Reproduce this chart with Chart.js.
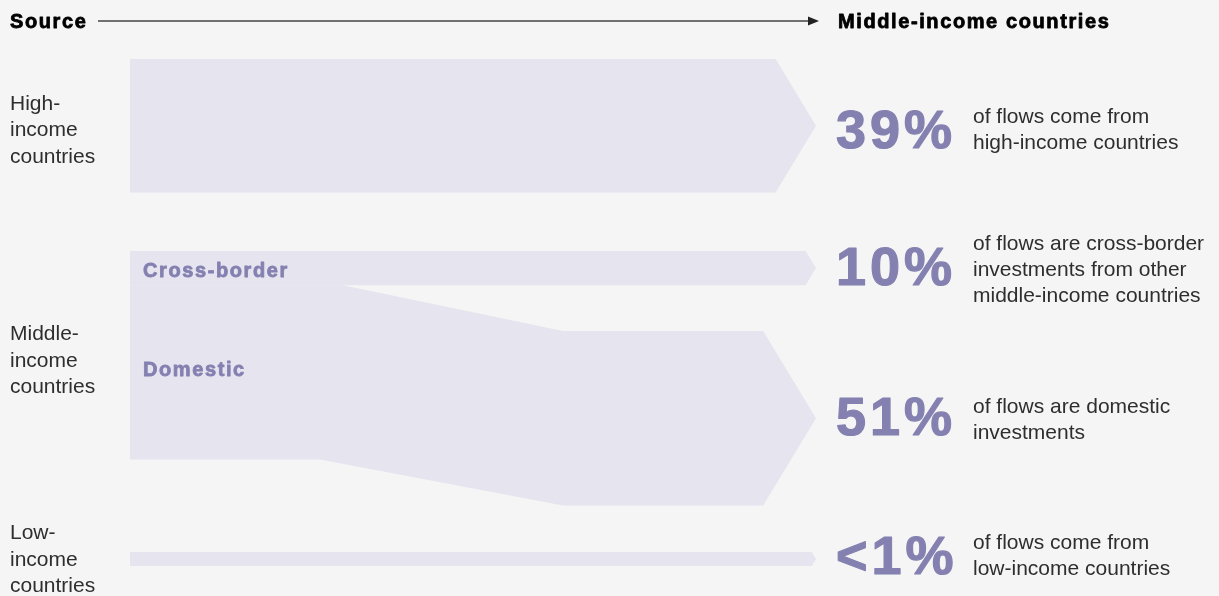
<!DOCTYPE html>
<html>
<head>
<meta charset="utf-8">
<script src="https://cdn.jsdelivr.net/npm/chart.js@4/dist/chart.umd.min.js"></script>
<style>
html,body{margin:0;padding:0;background:#f5f5f5;overflow:hidden}
canvas{display:block}
</style>
</head>
<body>
<canvas id="flowChart" width="1219" height="596"></canvas>
<script>
// shares of investment flows into middle-income countries (%)
var flowNames = ["High-income", "Cross-border", "Domestic", "Low-income"];
var flowShares = [39, 10, 51, 0.5];
var shareLabels = ["39%", "10%", "51%", "<1%"];
var flowNotes = [
	["of flows come from", "high-income countries"],
	["of flows are cross-border", "investments from other", "middle-income countries"],
	["of flows are domestic", "investments"],
	["of flows come from", "low-income countries"]
];
var sourceLabels = [["High-", "income", "countries"], ["Middle-", "income", "countries"], ["Low-", "income", "countries"]];

// layout
var PX_PER_PCT = 3.42;
var MIN_SHARE = 4.1;          // thinnest band that is still drawn
var BAND_LEFT = 130, TIP_X = 816, TIP_SLOPE = 1.65;
var bandTopPx = [59, 251, 331, 552];
var DOM_TOP_BEND = [343, 563], DOM_BOTTOM_BEND = [320, 563];
var pctNudge = [5, 0, 0, -2], noteNudge = [4.5, 2, 2, -3], sourceNudge = [5, 5.5, 1];
var BAND_COLOR = "#e5e4ef", PURPLE = "#8481b1", TEXT = "#2e2e2e";
var SANS = "'Liberation Sans', Arial, sans-serif";

function pct(px){ return px / PX_PER_PCT; }
function bandHeight(i){ return Math.max(flowShares[i], MIN_SHARE); }
function tipLen(h){ return h * PX_PER_PCT / 2 / TIP_SLOPE; }

//arrow shaped band: upper and lower edge
function arrowBand(i){
	var top = pct(bandTopPx[i]), h = bandHeight(i);
	var end = TIP_X - tipLen(h), mid = top + h / 2;
	return [
		[{x: BAND_LEFT, y: top}, {x: end, y: top}, {x: TIP_X, y: mid}],
		[{x: BAND_LEFT, y: top + h}, {x: end, y: top + h}, {x: TIP_X, y: mid}]
	];
}

//domestic band leaves from under the cross-border band and bends down
function domesticBand(){
	var startTop = pct(bandTopPx[1]) + bandHeight(1);
	var top = pct(bandTopPx[2]), h = bandHeight(2);
	var end = TIP_X - tipLen(h), mid = top + h / 2;
	return [
		[{x: BAND_LEFT, y: startTop}, {x: DOM_TOP_BEND[0], y: startTop}, {x: DOM_TOP_BEND[1], y: top}, {x: end, y: top}, {x: TIP_X, y: mid}],
		[{x: BAND_LEFT, y: startTop + h}, {x: DOM_BOTTOM_BEND[0], y: startTop + h}, {x: DOM_BOTTOM_BEND[1], y: top + h}, {x: end, y: top + h}, {x: TIP_X, y: mid}]
	];
}

var bands = [arrowBand(0), arrowBand(1), domesticBand(), arrowBand(3)];
var datasets = [];
bands.forEach(function(b, i){
	var base = {showLine: true, pointRadius: 0, borderWidth: 0, borderColor: "rgba(0,0,0,0)", backgroundColor: BAND_COLOR, tension: 0};
	datasets.push(Object.assign({label: flowNames[i] + " top", data: b[0], fill: false}, base));
	datasets.push(Object.assign({label: flowNames[i], data: b[1], fill: "-1"}, base));
});

function tipY(i){
	return pct(bandTopPx[i]) + bandHeight(i) / 2;
}

//heavy text: fill plus a thin stroke of the same colour
function heavyText(ctx, t, x, y, w){
	ctx.fillText(t, x, y);
	ctx.lineWidth = w;
	ctx.strokeStyle = ctx.fillStyle;
	ctx.lineJoin = "round";
	ctx.strokeText(t, x, y);
}

var textPlugin = {
	id: "flowText",
	afterDraw: function(chart){
		var ctx = chart.ctx, y = chart.scales.y;
		ctx.save();
		//header
		ctx.fillStyle = "#000";
		ctx.font = "bold 20px " + SANS;
		ctx.letterSpacing = "1.6px";
		ctx.textBaseline = "alphabetic";
		heavyText(ctx, "Source", 10, 28, 0.8);
		heavyText(ctx, "Middle-income countries", 838, 28, 0.8);
		ctx.strokeStyle = "#444";
		ctx.lineWidth = 1.3;
		ctx.beginPath(); ctx.moveTo(98, 21); ctx.lineTo(810, 21); ctx.stroke();
		ctx.fillStyle = "#222";
		ctx.beginPath(); ctx.moveTo(808, 16.5); ctx.lineTo(819, 21); ctx.lineTo(808, 25.5); ctx.closePath(); ctx.fill();

		//source labels
		ctx.letterSpacing = "0px";
		ctx.font = "21px " + SANS;
		ctx.fillStyle = TEXT;
		ctx.textBaseline = "middle";
		var centers = [
			y.getPixelForValue(tipY(0)),
			(y.getPixelForValue(pct(bandTopPx[1])) + y.getPixelForValue(pct(bandTopPx[1]) + bandHeight(1) + bandHeight(2))) / 2,
			y.getPixelForValue(tipY(3))
		];
		sourceLabels.forEach(function(lines, i){
			lines.forEach(function(t, j){
				ctx.fillText(t, 10, centers[i] + sourceNudge[i] + (j - 1) * 26.5);
			});
		});

		//in-band labels
		ctx.font = "bold 20px " + SANS;
		ctx.letterSpacing = "1.6px";
		ctx.fillStyle = PURPLE;
		heavyText(ctx, "Cross-border", 143, y.getPixelForValue(tipY(1)) + 3, 0.8);
		var domMid = pct(bandTopPx[1]) + bandHeight(1) + bandHeight(2) / 2;
		heavyText(ctx, "Domestic", 143, y.getPixelForValue(domMid) - 2, 0.8);

		//shares and notes
		for (var i = 0; i < shareLabels.length; i++){
			var cy = y.getPixelForValue(tipY(i));
			ctx.font = "bold 54px " + SANS;
			ctx.letterSpacing = "4px";
			ctx.fillStyle = PURPLE;
			heavyText(ctx, shareLabels[i], 836, cy + 2 + pctNudge[i], 1.2);
			ctx.font = "21px " + SANS;
			ctx.letterSpacing = "0px";
			ctx.fillStyle = TEXT;
			var n = flowNotes[i].length;
			flowNotes[i].forEach(function(t, j){
				ctx.fillText(t, 973, cy + noteNudge[i] + (j - (n - 1) / 2) * 26);
			});
		}
		ctx.restore();
	}
};

var flowChart = new Chart(document.getElementById("flowChart").getContext("2d"), {
	type: "scatter",
	data: {datasets: datasets},
	options: {
		responsive: false,
		animation: false,
		layout: {padding: 0},
		plugins: {legend: {display: false}, tooltip: {enabled: false}},
		scales: {
			x: {type: "linear", min: 0, max: 1219, display: false},
			y: {type: "linear", min: 0, max: pct(596), reverse: true, display: false}
		}
	},
	plugins: [textPlugin]
});
</script>
</body>
</html>
